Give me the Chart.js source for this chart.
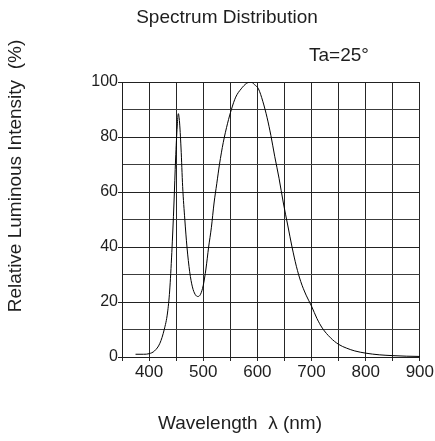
<!DOCTYPE html>
<html>
<head>
<meta charset="utf-8">
<script src="https://cdn.jsdelivr.net/npm/chart.js@4/dist/chart.umd.min.js"></script>
<style>
  html, body { margin: 0; padding: 0; background: #fff; overflow: hidden; }
  #wrap { width: 435px; height: 441px; position: relative; }
</style>
</head>
<body>
<div id="wrap"><canvas id="spectrum"></canvas></div>
<script>
// spectrum (nm, %)
var wavelengths = [375, 390, 400, 410, 420, 428, 434, 438, 442, 446, 449, 452, 454, 456, 459, 462, 466, 470, 475, 480, 485, 490, 495, 500, 505, 510, 515, 520, 525, 530, 537, 545, 552, 560, 570, 580, 588, 595, 602, 610, 618, 625, 632, 640, 648, 656, 664, 672, 680, 690, 700, 710, 720, 735, 750, 765, 780, 800, 825, 850, 875, 900];
var intensity = [1, 1, 1.2, 2.2, 5, 10, 16, 24, 38, 56, 72, 84, 88.5, 86, 76, 62, 50, 40, 31, 25.5, 22.8, 22, 22.8, 26, 32, 40, 47, 56, 63, 70, 78, 85, 90, 94.5, 97.5, 99.5, 100, 99, 97.5, 93, 87, 80.5, 73, 65, 56, 48, 40, 33, 27.5, 22.5, 18.5, 14, 10.5, 7, 4.6, 3.2, 2.2, 1.4, 0.8, 0.5, 0.3, 0.2];
var xLabels = [400, 500, 600, 700, 800, 900];
var yLabels = [0, 20, 40, 60, 80, 100];

var FONT = '"Liberation Sans", Arial, sans-serif';
var INK = '#1e1e1e';

var points = wavelengths.map(function (w, i) { return { x: w, y: intensity[i] }; });

// titles drawn by hand so they sit where the datasheet has them
var textPlugin = {
    id: 'sheetText',
    afterDraw: function (chart) {
        var c = chart.ctx;
        c.save();
        c.fillStyle = INK;
        c.font = '19px ' + FONT;
        c.textAlign = 'center';
        c.textBaseline = 'middle';
        c.fillText('Spectrum Distribution', 227, 18);
        c.fillText('Ta=25°', 339, 56);
        c.fillText('Wavelength  λ (nm)', 240, 424);
        c.translate(16, 176);
        c.rotate(-Math.PI / 2);
        c.fillText('Relative Luminous Intensity  (%)', 0, 0);
        c.restore();
    }
};

document.addEventListener('DOMContentLoaded', function () {
    var ctx = document.getElementById('spectrum').getContext('2d');
    new Chart(ctx, {
        type: 'line',
        data: {
            datasets: [{
                data: points,
                borderColor: '#000',
                borderWidth: 1,
                pointRadius: 0,
                fill: false,
                cubicInterpolationMode: 'monotone'
            }]
        },
        options: {
            responsive: true,
            maintainAspectRatio: false,
            animation: false,
            layout: { padding: { left: 0, top: 82, right: 15, bottom: 54 } },
            plugins: {
                legend: { display: false },
                tooltip: { enabled: false },
                title: { display: false }
            },
            scales: {
                x: {
                    type: 'linear',
                    min: 350,
                    max: 900,
                    afterFit: function (s) { s.height = 30; },
                    afterBuildTicks: function (s) {
                        s.ticks = [];
                        for (var v = 350; v <= 900; v += 50) s.ticks.push({ value: v });
                    },
                    ticks: {
                        autoSkip: false,
                        maxRotation: 0,
                        padding: 1,
                        color: INK,
                        font: { family: FONT, size: 17 },
                        callback: function (v) { return xLabels.indexOf(v) >= 0 ? v : ''; }
                    },
                    grid: { color: '#262626', lineWidth: 1, tickLength: 4, tickColor: '#262626' },
                    border: { color: '#1e1e1e', width: 1 }
                },
                y: {
                    min: 0,
                    max: 100,
                    afterFit: function (s) { s.width = 122; },
                    afterBuildTicks: function (s) {
                        s.ticks = [];
                        for (var v = 0; v <= 100; v += 10) s.ticks.push({ value: v });
                    },
                    ticks: {
                        autoSkip: false,
                        padding: 0,
                        color: INK,
                        font: { family: FONT, size: 16 },
                        callback: function (v) { return yLabels.indexOf(v) >= 0 ? v : ''; }
                    },
                    grid: {
                        lineWidth: 1,
                        tickLength: 4,
                        color: function (c) { return c.tick && yLabels.indexOf(c.tick.value) >= 0 ? '#222' : '#3c3c3c'; },
                        tickColor: function (c) { return c.tick && yLabels.indexOf(c.tick.value) >= 0 ? '#222' : 'rgba(0,0,0,0)'; }
                    },
                    border: { color: '#1e1e1e', width: 1 }
                }
            }
        },
        plugins: [textPlugin]
    });
});
</script>
</body>
</html>
